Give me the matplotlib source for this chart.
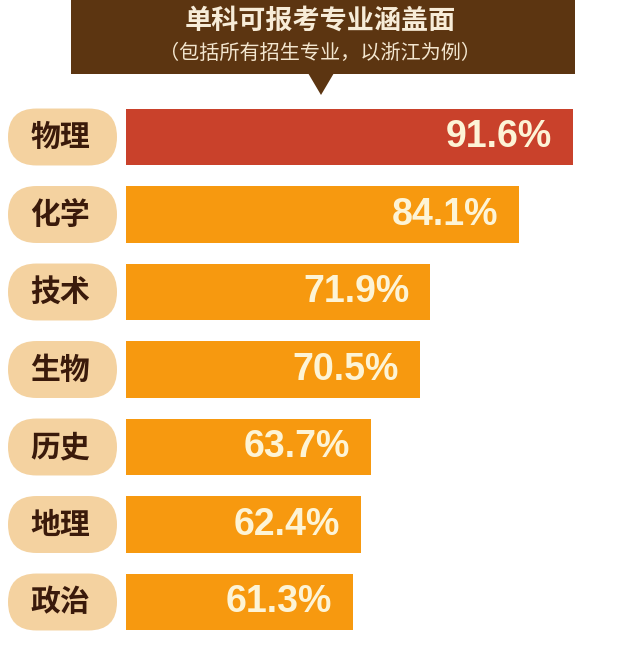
import matplotlib.pyplot as plt
from matplotlib.patches import FancyBboxPatch, Rectangle, Polygon

plt.rcParams['font.family'] = ['Noto Sans CJK SC', 'DejaVu Sans']

# Data ===========================================
subjects = ['物理', '化学', '技术', '生物', '历史', '地理', '政治']
coverage = [91.6, 84.1, 71.9, 70.5, 63.7, 62.4, 61.3]
title = '单科可报考专业涵盖面'
subtitle = '（包括所有招生专业，以浙江为例）'

bar_colors = ['#c9412b'] + ['#f7990f'] * (len(subjects) - 1)
pill_color = '#f4d2a0'
label_color = '#3a1a0b'
banner_color = '#5c3511'
value_color = '#fdf4d6'

fig = plt.figure(figsize=(6.4, 6.63), dpi=100)
W, H = 640, 663

# Banner (figure in pixel units) =================
ax_bg = fig.add_axes([0, 0, 1, 1])
ax_bg.set_xlim(0, W)
ax_bg.set_ylim(H, 0)
ax_bg.axis('off')
ax_bg.add_patch(Rectangle((71, -5), 504, 79, color=banner_color, lw=0))
ax_bg.add_patch(Polygon([(308, 73), (334, 73), (321, 95)], closed=True,
                        color=banner_color, lw=0))
ax_bg.text(320, 21, title, ha='center', va='center', fontsize=19.5,
           fontweight='bold', color='#f7ecd8')
ax_bg.text(320, 53, subtitle, ha='center', va='center', fontsize=14.5,
           color='#f3e6cf')

# Bars ===========================================
row_px = 77.5
top_px, bot_px = 98.25, 640.75
ax_b = fig.add_axes([126 / W, 1 - bot_px / H, 1 - 126 / W, (bot_px - top_px) / H])
rows = list(range(len(subjects)))
ax_b.barh(rows, coverage, height=0.735, color=bar_colors, lw=0)
ax_b.set_xlim(30, 100.8)
ax_b.set_ylim(len(subjects) - 0.5, -0.5)
ax_b.axis('off')
for i, v in enumerate(coverage):
    ax_b.annotate(f'{v}%', xy=(v, i), xytext=(-15, 0), textcoords='offset points',
                  ha='right', va='center', fontsize=27, fontweight='bold',
                  family='Liberation Sans', color=value_color)

# Category pills =================================
ax_l = fig.add_axes([0, 1 - bot_px / H, 126 / W, (bot_px - top_px) / H])
ax_l.set_xlim(0, 126 / row_px)
ax_l.set_ylim(len(subjects) - 0.5, -0.5)
ax_l.axis('off')
h = 0.735
x0, x1 = 8 / row_px, 117 / row_px
for i, name in enumerate(subjects):
    ax_l.add_patch(FancyBboxPatch((x0, i - h / 2), x1 - x0, h,
                                  boxstyle=f'round,pad=0,rounding_size={h / 2}',
                                  color=pill_color, lw=0))
    ax_l.text((x0 + x1) / 2 - 0.03, i, name, ha='center', va='center',
              fontsize=21.5, fontweight='heavy', color=label_color)

fig.savefig('out.png', dpi=100)
